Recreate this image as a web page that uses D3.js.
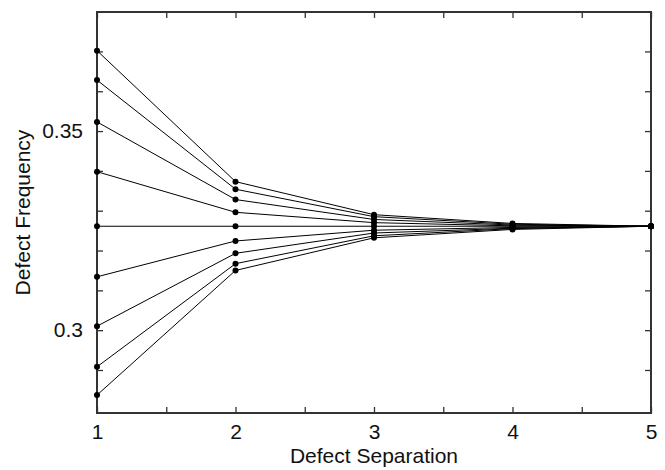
<!DOCTYPE html>
<html>
<head>
<meta charset="utf-8">
<script src="https://cdn.jsdelivr.net/npm/d3@7"></script>
<style>
  body { margin: 0; background: #fff; }
  text { font-family: "Liberation Sans", Arial, sans-serif; fill: #111; }
</style>
</head>
<body>
<script>
// defect frequency vs separation, one line per starting frequency

var separation = [1, 2, 3, 4, 5];

var freqA = [0.3702, 0.3373, 0.3290, 0.3268, 0.3261];
var freqB = [0.3628, 0.3354, 0.3285, 0.3266, 0.3261];
var freqC = [0.3523, 0.3328, 0.3278, 0.3264, 0.3261];
var freqD = [0.3398, 0.3296, 0.3270, 0.3262, 0.3261];
var freqE = [0.3261, 0.3261, 0.3261, 0.3261, 0.3261];
var freqF = [0.3134, 0.3224, 0.3251, 0.3258, 0.3261];
var freqG = [0.3010, 0.3193, 0.3244, 0.3256, 0.3261];
var freqH = [0.2908, 0.3167, 0.3237, 0.3255, 0.3261];
var freqI = [0.2837, 0.3150, 0.3232, 0.3253, 0.3261];

var series = [freqA, freqB, freqC, freqD, freqE, freqF, freqG, freqH, freqI];

var xTicks = [1, 1.5, 2, 2.5, 3, 3.5, 4, 4.5, 5];
var yTicks = [0.29, 0.30, 0.31, 0.32, 0.33, 0.34, 0.35, 0.36, 0.37];
var yLabelled = [0.30, 0.35];

var width = 665, height = 470;
var plotL = 97, plotR = 651, plotT = 12, plotB = 413;

var svg = d3.select('body')
  .append('svg')
  .attr('width', width)
  .attr('height', height);

var x = d3.scaleLinear().domain([1, 5]).range([plotL, plotR]);
var y = d3.scaleLinear().domain([0.2792, 0.3799]).range([plotB, plotT]);

var fmtX = function (d) { return Number.isInteger(d) ? d : ''; };
var fmtY = function (d) {
  return yLabelled.some(function (v) { return Math.abs(v - d) < 1e-9; }) ? String(+d.toFixed(2)) : '';
};

// axes, ticks pointing inward
var axisStyle = function (g) {
  g.select('.domain').remove();
  g.selectAll('.tick line').attr('stroke', '#333').attr('stroke-width', 1.3);
  g.selectAll('.tick text').style('font-size', '21px').attr('fill', '#111');
};

svg.append('g')
  .attr('transform', 'translate(0,' + plotB + ')')
  .call(d3.axisBottom(x).tickValues(xTicks).tickFormat(fmtX).tickSizeInner(-6).tickSizeOuter(0).tickPadding(11))
  .call(axisStyle);

svg.append('g')
  .attr('transform', 'translate(0,' + plotT + ')')
  .call(d3.axisTop(x).tickValues(xTicks).tickFormat('').tickSizeInner(-6).tickSizeOuter(0))
  .call(axisStyle);

svg.append('g')
  .attr('transform', 'translate(' + plotL + ',0)')
  .call(d3.axisLeft(y).tickValues(yTicks).tickFormat(fmtY).tickSizeInner(-6).tickSizeOuter(0).tickPadding(14))
  .call(axisStyle);

svg.append('g')
  .attr('transform', 'translate(' + plotR + ',0)')
  .call(d3.axisRight(y).tickValues(yTicks).tickFormat('').tickSizeInner(-6).tickSizeOuter(0))
  .call(axisStyle);

// frame
svg.append('rect')
  .attr('x', plotL).attr('y', plotT)
  .attr('width', plotR - plotL).attr('height', plotB - plotT)
  .attr('fill', 'none')
  .attr('stroke', '#333')
  .attr('stroke-width', 2);

var line = d3.line()
  .x(function (d, i) { return x(separation[i]); })
  .y(function (d) { return y(d); });

svg.selectAll('.series')
  .data(series)
  .enter()
  .append('path')
  .attr('class', 'series')
  .attr('d', line)
  .attr('fill', 'none')
  .attr('stroke', '#000')
  .attr('stroke-width', 1);

series.forEach(function (s) {
  svg.selectAll(null)
    .data(s)
    .enter()
    .append('circle')
    .attr('cx', function (d, i) { return x(separation[i]); })
    .attr('cy', function (d) { return y(d); })
    .attr('r', 3)
    .attr('fill', '#000');
});

svg.append('text')
  .attr('x', (plotL + plotR) / 2)
  .attr('y', 463)
  .attr('text-anchor', 'middle')
  .style('font-size', '21px')
  .text('Defect Separation');

svg.append('text')
  .attr('transform', 'translate(30,' + ((plotT + plotB) / 2) + ') rotate(-90)')
  .attr('text-anchor', 'middle')
  .style('font-size', '21px')
  .text('Defect Frequency');
</script>
</body>
</html>
